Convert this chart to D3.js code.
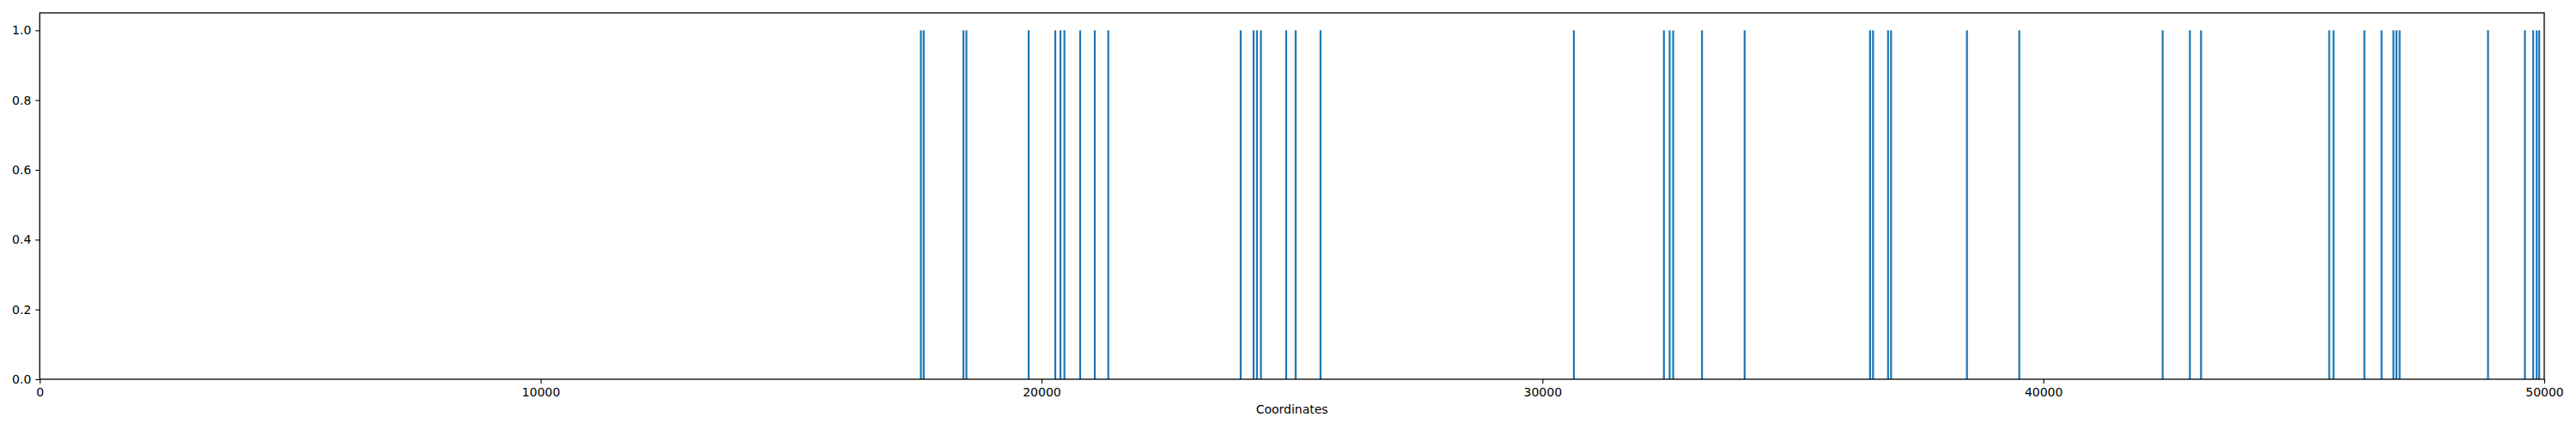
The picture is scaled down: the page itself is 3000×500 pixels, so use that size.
<!DOCTYPE html>
<html><head><meta charset="utf-8">
<script src="https://cdn.jsdelivr.net/npm/d3@7"></script>
<style>body{margin:0;background:#fff}svg{display:block}</style>
</head><body>
<script>
const positions = [17591,17648,18440,18500,19743,20274,20377,20457,20771,21063,21332,23976,24233,24300,24380,24884,25073,25570,
30627,32425,32540,32610,33186,34037,36540,36600,36900,36960,38475,39520,42382,42926,43149,45707,45793,46410,46753,46990,47050,47113,48878,49615,49780,49850,49900];
const values = positions.map(()=>1);
const xTicks = [0,10000,20000,30000,40000,50000];
const yTicks = [0,0.2,0.4,0.6,0.8,1.0];
const barWidth = 38;

const W=3000,H=500, m={l:46.3,r:37,t:15,b:58};
const svg=d3.select("body").append("svg").attr("width",W).attr("height",H)
  .style("font-family","DejaVu Sans");
const x=d3.scaleLinear().domain([0,50000]).range([m.l,W-m.r]);
const y=d3.scaleLinear().domain([0,1.05]).range([H-m.b,m.t]);
svg.append("g").selectAll("rect").data(positions).join("rect")
  .attr("x",d=>x(d-barWidth/2)).attr("width",d=>x(d+barWidth/2)-x(d-barWidth/2))
  .attr("y",(d,i)=>y(values[i])).attr("height",(d,i)=>y(0)-y(values[i]))
  .attr("fill","#1f77b4");
const xa=svg.append("g").attr("transform",`translate(0,${H-m.b})`)
  .call(d3.axisBottom(x).tickValues(xTicks).tickFormat(d3.format("d")).tickSize(5).tickPadding(5));
const ya=svg.append("g").attr("transform",`translate(${m.l},0)`)
  .call(d3.axisLeft(y).tickValues(yTicks).tickFormat(d3.format(".1f")).tickSize(5).tickPadding(5));
[xa,ya].forEach(a=>{a.select(".domain").remove();a.selectAll("text").attr("font-size",14).attr("fill","#000").style("font-family","DejaVu Sans");a.selectAll("line").attr("stroke","#000").attr("stroke-width",1.1);});
svg.append("rect").attr("x",m.l).attr("y",m.t).attr("width",W-m.r-m.l).attr("height",H-m.b-m.t)
  .attr("fill","none").attr("stroke","#000").attr("stroke-width",1.3);
svg.append("text").attr("x",(m.l+W-m.r)/2).attr("y",482).attr("text-anchor","middle")
  .attr("font-size",14).text("Coordinates");
</script>
</body></html>
